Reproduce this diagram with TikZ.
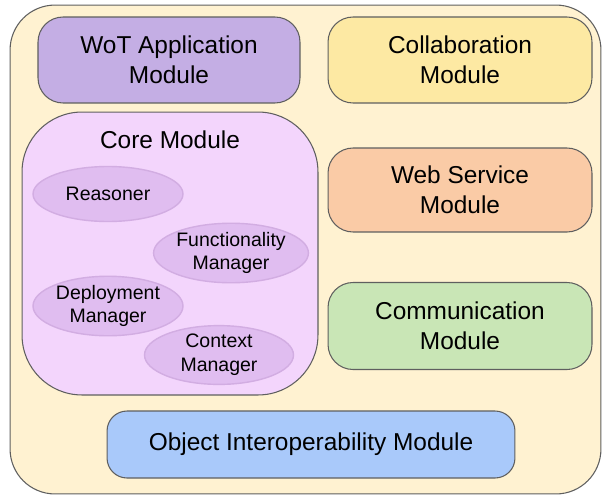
\documentclass[tikz,border=0pt]{standalone}
\usepackage{fontspec}
\setmainfont{Liberation Sans}
\usepackage{tikz}
\usetikzlibrary{shapes.geometric,positioning}

\definecolor{frameyellow}{HTML}{FFF2D1}
\definecolor{wotpurple}{HTML}{C4AEE4}
\definecolor{collabyellow}{HTML}{FDE9A3}
\definecolor{webpeach}{HTML}{FACBA6}
\definecolor{commgreen}{HTML}{C9E6B6}
\definecolor{objblue}{HTML}{A9C9FA}
\definecolor{corepink}{HTML}{F3D5FC}
\definecolor{partviolet}{HTML}{E0BDF0}
\definecolor{partline}{HTML}{D2ADE2}
\definecolor{boxline}{HTML}{5F5F5F}

\begin{document}
\begin{tikzpicture}[x=0.02cm,y=-0.02cm,
  module/.style={draw=boxline,line width=0.6pt,rounded corners=0.5cm,
    align=center,inner sep=0pt,font=\fontsize{13.9}{17}\selectfont},
  part/.style={ellipse,draw=partline,line width=0.8pt,fill=partviolet,
    align=center,inner sep=0pt,font=\fontsize{11.1}{13.6}\selectfont}]
\useasboundingbox (0,0) rectangle (604,497);
% outer frame
\node[module,fill=frameyellow,rounded corners=0.9cm,minimum width=11.82cm,minimum height=9.78cm] (frame) at (305.5,249.5) {};
% modules
\node[module,fill=wotpurple,minimum width=5.24cm,minimum height=1.72cm] (wot) at (169,60) {WoT Application\\Module};
\node[module,fill=collabyellow,minimum width=5.28cm,minimum height=1.72cm] (collab) at (460,60) {Collaboration\\Module};
\node[module,fill=webpeach,minimum width=5.28cm,minimum height=1.68cm] (web) at (460,190) {Web Service\\Module};
\node[module,fill=commgreen,minimum width=5.28cm,minimum height=1.74cm] (comm) at (460,326) {Communication\\Module};
\node[module,fill=objblue,rounded corners=0.4cm,minimum width=8.16cm,minimum height=1.34cm] (obj) at (311,444.5) {Object Interoperability Module};
% core module and its parts
\node[module,fill=corepink,rounded corners=1.2cm,minimum width=5.92cm,minimum height=5.66cm] (core) at (170,253.5) {};
\node[font=\fontsize{13.9}{17}\selectfont] (coretitle) at (170,140) {Core Module};
\node[part,minimum width=3cm,minimum height=1.1cm] (reasoner) at (108,194) {Reasoner};
\node[part,minimum width=2.98cm,minimum height=1.14cm] (func) at (231,253) {Functionality\\Manager};
\node[part,minimum width=3cm,minimum height=1.1cm] (deploy) at (108,306) {Deployment\\Manager};
\node[part,minimum width=2.98cm,minimum height=1.1cm] (context) at (219,355) {Context\\Manager};
\end{tikzpicture}
\end{document}
